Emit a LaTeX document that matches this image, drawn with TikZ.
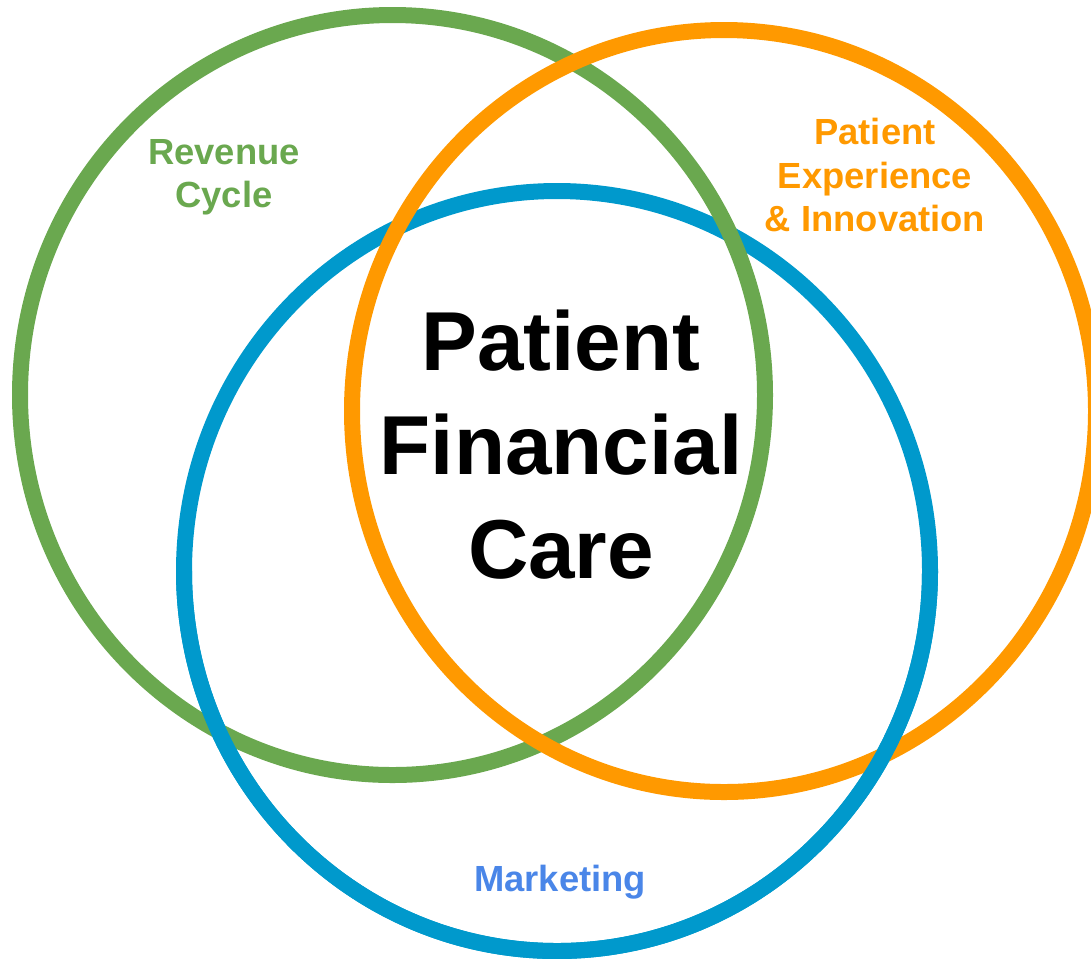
\documentclass[tikz,border=0pt]{standalone}
\usepackage{fontspec}
\setmainfont{Liberation Sans}
\usetikzlibrary{positioning}

\definecolor{revgreen}{HTML}{6AA84F}
\definecolor{exporange}{HTML}{FF9900}
\definecolor{mktblue}{HTML}{0099CC}
\definecolor{mkttext}{HTML}{4A86E8}

\tikzset{
  ring/.style = {
    line width=0.32cm
  },
  biglabel/.style = {
    align=center,
    inner sep=0pt,
    font=\fontsize{47.6}{59}\selectfont\bfseries
  },
  setlabel/.style = {
    align=center,
    inner sep=0pt,
    font=\fontsize{20.7}{24.7}\selectfont\bfseries
  }
}

\begin{document}
\begin{tikzpicture}[x=0.02cm, y=-0.02cm]
    \useasboundingbox (0,0) rectangle (1091,958);
    \clip (0,0) rectangle (1091,958);

    \coordinate (revenue)    at (392.5,395);
    \coordinate (experience) at (724,411);
    \coordinate (marketing)  at (557,571);

    \draw[ring, mktblue]   (marketing)  ellipse [x radius=373, y radius=380];
    \draw[ring, revgreen]  (revenue)    ellipse [x radius=372.5, y radius=380];
    \draw[ring, exporange] (experience) ellipse [x radius=372, y radius=381];
    % lower half of the blue ring goes over the other two
    \draw[ring, mktblue]   ([xshift=-373*0.02cm]marketing)
        arc [start angle=180, end angle=0, x radius=373, y radius=380];

    \node[biglabel] (pfc) at (561,444.5) {Patient\\Financial\\Care};
    \node[setlabel, text=revgreen]  (revlabel) at (224,177.5) {Revenue\\Cycle};
    \node[setlabel, text=exporange] (explabel) at (875,175) {Patient\\Experience\\\& Innovation};
    \node[setlabel, text=mkttext]   (mktlabel) at (560,882) {Marketing};
\end{tikzpicture}
\end{document}
